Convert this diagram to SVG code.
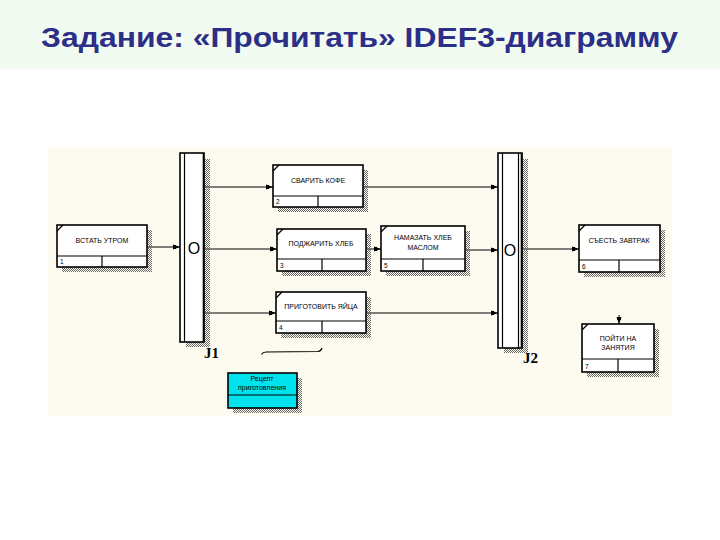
<svg xmlns="http://www.w3.org/2000/svg" width="720" height="540" viewBox="0 0 720 540">
<defs>
<pattern id="dots" width="2" height="2" patternUnits="userSpaceOnUse"><rect width="1" height="1" fill="#6a6a6a"/><rect x="1" y="1" width="1" height="1" fill="#6a6a6a"/></pattern>
<marker id="ah" markerWidth="8" markerHeight="6" refX="7" refY="3" orient="auto" markerUnits="userSpaceOnUse"><path d="M0,0.5 L7,3 L0,5.5 Z" fill="#000"/><rect x="0" y="1" width="3" height="4" fill="#000"/></marker>
</defs>
<style>
.box{fill:#fff;stroke:#000;stroke-width:1.6}
.cy{fill:#00e3ef;stroke:#000;stroke-width:1.6}
.ln{stroke:#000;stroke-width:1.2;fill:none}
.sh{fill:url(#dots)}
.t{font-family:"Liberation Sans",Arial,sans-serif;font-size:7px;fill:#000;text-anchor:middle}
.n{font-family:"Liberation Sans",Arial,sans-serif;font-size:6.5px;fill:#000}
.o{font-family:"Liberation Sans",Arial,sans-serif;font-size:16px;fill:#000;text-anchor:middle}
.j{font-family:"Liberation Serif","Times New Roman",serif;font-size:15px;font-weight:bold;fill:#000}
.c{stroke:#000;stroke-width:1;fill:none;marker-end:url(#ah)}
</style>
<rect x="0" y="0" width="720" height="540" fill="#fff"/>
<rect x="0" y="0" width="720" height="69" fill="#f1fbf1"/>
<text x="41" y="47" font-family="'Liberation Sans',Arial,sans-serif" font-size="28" font-weight="bold" fill="#2c2f88" textLength="637" lengthAdjust="spacingAndGlyphs">Задание: «Прочитать» IDEF3-диаграмму</text>
<rect x="48" y="148" width="624" height="268" fill="#fdfbef"/>

<g id="connectors">
<line class="c" x1="147" y1="247" x2="180" y2="247"/>
<line class="c" x1="205" y1="187" x2="273" y2="187"/>
<line class="c" x1="205" y1="249" x2="277" y2="249"/>
<line class="c" x1="205" y1="313" x2="276" y2="313"/>
<line class="c" x1="364" y1="187" x2="498" y2="187"/>
<line class="c" x1="367" y1="249" x2="381" y2="249"/>
<line class="c" x1="466" y1="250" x2="498" y2="250"/>
<line class="c" x1="367" y1="313" x2="498" y2="313"/>
<line class="c" x1="523" y1="249" x2="579" y2="249"/>
<line class="c" x1="619" y1="315" x2="619" y2="324"/>
<path class="ln" d="M261.5,354.5 Q263,352 266,352 L318,351.5 Q321,351 322,348"/>
</g>

<g id="J1">
<rect class="sh" x="204" y="159" width="6" height="188"/>
<rect class="sh" x="186" y="342" width="18" height="5"/>
<rect x="180" y="153" width="24" height="189" fill="#fff" stroke="#000" stroke-width="1.6"/>
<line class="ln" x1="184.5" y1="153" x2="184.5" y2="342"/>
<line x1="203.5" y1="153" x2="203.5" y2="342" stroke="#000" stroke-width="1.6"/>
<text class="o" x="194" y="254">O</text>
<text class="j" x="204" y="358">J1</text>
</g>

<g id="J2">
<rect class="sh" x="522" y="159" width="6" height="194"/>
<rect class="sh" x="504" y="348" width="18" height="5"/>
<rect x="498" y="153" width="24" height="195" fill="#fff" stroke="#000" stroke-width="1.6"/>
<line class="ln" x1="502.5" y1="153" x2="502.5" y2="348"/>
<line class="ln" x1="518.5" y1="153" x2="518.5" y2="348"/>
<line x1="521.5" y1="153" x2="521.5" y2="348" stroke="#000" stroke-width="1.6"/>
<text class="o" x="510" y="256">O</text>
<text class="j" x="523" y="363">J2</text>
</g>

<g id="box1">
<rect class="sh" x="147" y="230" width="5" height="42"/>
<rect class="sh" x="62" y="267" width="85" height="5"/>
<rect class="box" x="57" y="225" width="90" height="42"/>
<line class="ln" x1="57" y1="231" x2="63" y2="225"/>
<line class="ln" x1="57" y1="256" x2="147" y2="256"/>
<line class="ln" x1="102" y1="256" x2="102" y2="267"/>
<text class="t" x="102" y="243">ВСТАТЬ УТРОМ</text>
<text class="n" x="60" y="264">1</text>
</g>

<g id="box2">
<rect class="sh" x="363" y="170" width="5" height="42"/>
<rect class="sh" x="278" y="207" width="85" height="5"/>
<rect class="box" x="273" y="165" width="90" height="42"/>
<line class="ln" x1="273" y1="171" x2="279" y2="165"/>
<line class="ln" x1="273" y1="196" x2="363" y2="196"/>
<line class="ln" x1="318" y1="196" x2="318" y2="207"/>
<text class="t" x="318" y="183">СВАРИТЬ КОФЕ</text>
<text class="n" x="276" y="204">2</text>
</g>

<g id="box3">
<rect class="sh" x="366" y="234" width="5" height="42"/>
<rect class="sh" x="282" y="271" width="84" height="5"/>
<rect class="box" x="277" y="229" width="89" height="42"/>
<line class="ln" x1="277" y1="235" x2="283" y2="229"/>
<line class="ln" x1="277" y1="259" x2="366" y2="259"/>
<line class="ln" x1="322" y1="259" x2="322" y2="271"/>
<text class="t" x="321" y="246">ПОДЖАРИТЬ ХЛЕБ</text>
<text class="n" x="280" y="268">3</text>
</g>

<g id="box4">
<rect class="sh" x="366" y="297" width="5" height="41"/>
<rect class="sh" x="281" y="333" width="85" height="5"/>
<rect class="box" x="276" y="292" width="90" height="41"/>
<line class="ln" x1="276" y1="298" x2="282" y2="292"/>
<line class="ln" x1="276" y1="321" x2="366" y2="321"/>
<line class="ln" x1="322" y1="321" x2="322" y2="333"/>
<text class="t" x="321" y="309">ПРИГОТОВИТЬ ЯЙЦА</text>
<text class="n" x="279" y="330">4</text>
</g>

<g id="box5">
<rect class="sh" x="465" y="231" width="5" height="45"/>
<rect class="sh" x="386" y="271" width="79" height="5"/>
<rect class="box" x="381" y="226" width="84" height="45"/>
<line class="ln" x1="381" y1="232" x2="387" y2="226"/>
<line class="ln" x1="381" y1="259" x2="465" y2="259"/>
<line class="ln" x1="423" y1="259" x2="423" y2="271"/>
<text class="t" x="423" y="240">НАМАЗАТЬ ХЛЕБ</text>
<text class="t" x="423" y="250">МАСЛОМ</text>
<text class="n" x="384" y="268">5</text>
</g>

<g id="box6">
<rect class="sh" x="660" y="230" width="5" height="47"/>
<rect class="sh" x="584" y="272" width="76" height="5"/>
<rect class="box" x="579" y="225" width="81" height="47"/>
<line class="ln" x1="579" y1="231" x2="585" y2="225"/>
<line class="ln" x1="579" y1="260" x2="660" y2="260"/>
<line class="ln" x1="619" y1="260" x2="619" y2="272"/>
<text class="t" x="619" y="243">СЪЕСТЬ ЗАВТРАК</text>
<text class="n" x="582" y="269">6</text>
</g>

<g id="box7">
<rect class="sh" x="654" y="329" width="5" height="48"/>
<rect class="sh" x="587" y="372" width="67" height="5"/>
<rect class="box" x="582" y="324" width="72" height="48"/>
<line class="ln" x1="582" y1="330" x2="588" y2="324"/>
<line class="ln" x1="582" y1="359" x2="654" y2="359"/>
<line class="ln" x1="618" y1="359" x2="618" y2="372"/>
<text class="t" x="618" y="341">ПОЙТИ НА</text>
<text class="t" x="618" y="350">ЗАНЯТИЯ</text>
<text class="n" x="585" y="369">7</text>
</g>

<g id="referent">
<rect class="sh" x="297" y="378" width="5" height="35"/>
<rect class="sh" x="233" y="408" width="64" height="5"/>
<rect class="cy" x="228" y="373" width="69" height="35"/>
<line class="ln" x1="228" y1="395" x2="297" y2="395"/>
<text class="t" x="262" y="381" fill="#000">Рецепт</text>
<text class="t" x="262" y="390" fill="#000">приготовления</text>
</g>
</svg>
